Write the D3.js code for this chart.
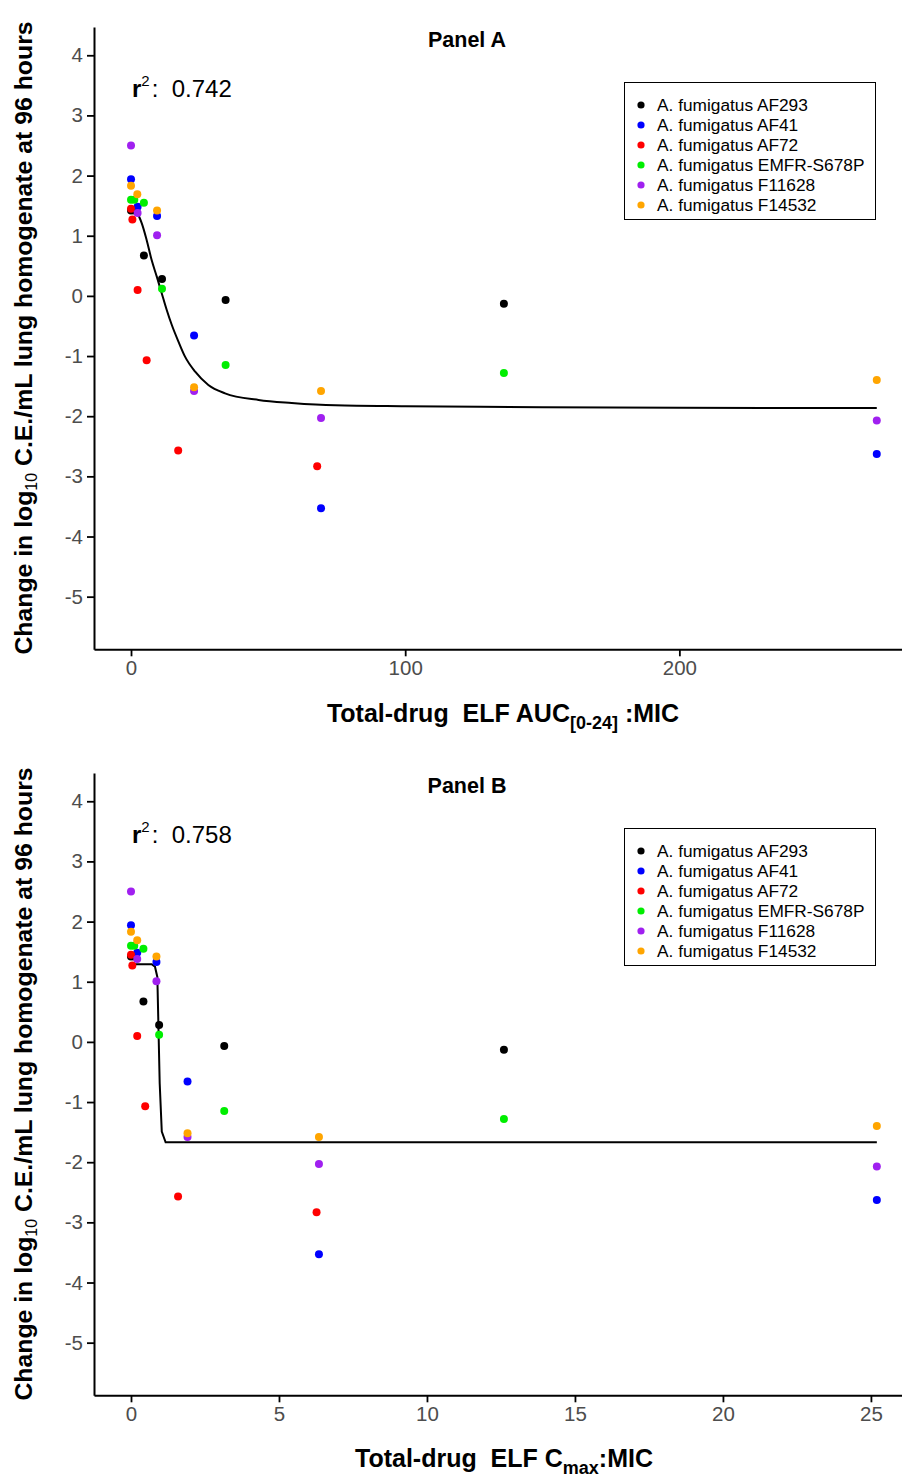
<!DOCTYPE html>
<html>
<head>
<meta charset="utf-8">
<script src="https://cdn.jsdelivr.net/npm/d3@7/dist/d3.min.js"></script>
<style>
  body { margin: 0; background: #fff; }
  svg { display: block; font-family: "Liberation Sans", Arial, sans-serif; }
  .tick text { fill: #4d4d4d; font-size: 20.5px; }
</style>
</head>
<body>
<div id="chart"></div>
<script>
// strains and colours
const strains = [
    'A. fumigatus AF293',
    'A. fumigatus AF41',
    'A. fumigatus AF72',
    'A. fumigatus EMFR-S678P',
    'A. fumigatus F11628',
    'A. fumigatus F14532'
];
const strainColors = ['#000000', '#0000ff', '#ff0000', '#00ee00', '#a020f0', '#ffa500'];

// exposure per strain (one row per strain)
const aucMic = [
    [0, 1.2, 4.7, 11.3, 34.5, 136],
    [0, 2.4, 9.5, 23, 69.3, 272],
    [0, 0.5, 2.4, 5.7, 17.2, 67.9],
    [0, 1.2, 4.7, 11.3, 34.5, 136],
    [0, 2.4, 9.5, 23, 69.3, 272],
    [0, 2.3, 9.5, 23, 69.3, 272]
];
const cmaxMic = [
    [0, 0.11, 0.42, 0.95, 3.15, 12.6],
    [0, 0.21, 0.86, 1.91, 6.35, 25.2],
    [0, 0.045, 0.21, 0.48, 1.59, 6.27],
    [0, 0.11, 0.42, 0.95, 3.15, 12.6],
    [0, 0.21, 0.86, 1.91, 6.35, 25.2],
    [0, 0.21, 0.86, 1.91, 6.35, 25.2]
];
// change in log10 CE/mL at 96 h
const response = [
    [1.42, 1.42, 0.67, 0.28, -0.07, -0.13],
    [1.94, 1.48, 1.33, -0.66, -3.53, -2.63],
    [1.45, 1.27, 0.10, -1.07, -2.57, -2.83],
    [1.60, 1.60, 1.55, 0.12, -1.15, -1.28],
    [2.50, 1.38, 1.01, -1.58, -2.03, -2.07],
    [1.83, 1.69, 1.42, -1.52, -1.58, -1.40]
];

// fitted curves
const fitAx = [0, 2.07, 3.9, 5.7, 7.5, 9.4, 11.2, 13.0, 14.85, 17.3, 19.7, 23.4, 28.2, 34.3, 46.5, 58.6, 74.5, 100, 150, 200, 272];
const fitAy = [1.42, 1.38, 1.21, 0.93, 0.60, 0.32, 0.045, -0.23, -0.48, -0.76, -1.01, -1.26, -1.48, -1.62, -1.73, -1.78, -1.82, -1.835, -1.85, -1.86, -1.865];
const fitBx = [0, 0.7, 0.81, 0.89, 0.92, 0.97, 1.04, 1.17, 25.2];
const fitBy = [1.29, 1.29, 1.25, 1.08, 0.42, -0.69, -1.49, -1.67, -1.67];

const yTicks = [-5, -4, -3, -2, -1, 0, 1, 2, 3, 4];
const xTicksA = [0, 100, 200];
const xTicksB = [0, 5, 10, 15, 20, 25];

const width = 902;
const height = 1478;

const svg = d3.select('#chart')
    .append('svg')
    .attr('width', width)
    .attr('height', height);

// R style labels: plain hyphen for negatives
const plainNum = d => String(d);

function drawPanel(cfg) {
    const g = svg.append('g').attr('transform', `translate(0, ${cfg.offset})`);

    const xScale = d3.scaleLinear().domain(cfg.xDomain).range([94, 902]);
    const yScale = d3.scaleLinear().domain([-5.875, 4.47]).range([649.3, 27]);

    // axes
    const xAxis = d3.axisBottom(xScale).tickValues(cfg.xTicks).tickFormat(plainNum)
        .tickSizeInner(7).tickSizeOuter(0).tickPadding(4);
    const yAxis = d3.axisLeft(yScale).tickValues(yTicks).tickFormat(plainNum)
        .tickSizeInner(7).tickSizeOuter(0).tickPadding(4);

    const xg = g.append('g').attr('transform', 'translate(0, 649.3)').call(xAxis);
    const yg = g.append('g').attr('transform', 'translate(94, 0)').call(yAxis);
    [xg, yg].forEach(a => {
        a.select('.domain').attr('stroke', '#000').attr('stroke-width', 2);
        a.selectAll('.tick line').attr('stroke', '#000').attr('stroke-width', 1.8);
        a.attr('font-family', null).attr('font-size', null);
    });

    // fitted line
    const line = d3.line()
        .x(d => xScale(d[0]))
        .y(d => yScale(d[1]))
        .curve(cfg.curve);
    g.append('path')
        .datum(cfg.fitX.map((x, i) => [x, cfg.fitY[i]]))
        .attr('d', line)
        .attr('fill', 'none')
        .attr('stroke', '#000')
        .attr('stroke-width', 2);

    // points
    strains.forEach((s, si) => {
        g.selectAll(null)
            .data(cfg.xs[si].map((x, i) => ({ x: x, y: response[si][i] })))
            .enter()
            .append('circle')
            .attr('cx', d => xScale(d.x))
            .attr('cy', d => yScale(d.y))
            .attr('r', 4)
            .attr('fill', strainColors[si]);
    });

    // panel title
    g.append('text')
        .attr('x', 467)
        .attr('y', 46.5)
        .attr('text-anchor', 'middle')
        .attr('font-size', '21.5px')
        .attr('font-weight', 'bold')
        .text(cfg.title);

    // r squared
    const r2 = g.append('text').attr('x', 132).attr('y', 97).attr('font-size', '24px');
    r2.append('tspan').attr('font-weight', 'bold').text('r');
    r2.append('tspan').attr('font-size', '15px').attr('dy', -11).text('2');
    r2.append('tspan').attr('dy', 11).attr('dx', 2).text(':  ' + cfg.r2).style('white-space', 'pre');

    // legend
    const legend = g.append('g');
    legend.append('rect')
        .attr('x', 624.5).attr('y', 82.5)
        .attr('width', 251).attr('height', 137)
        .attr('fill', '#fff').attr('stroke', '#000').attr('stroke-width', 1);
    const items = legend.selectAll('.item')
        .data(strains)
        .enter()
        .append('g')
        .attr('transform', (d, i) => `translate(641, ${105 + i * 20})`);
    items.append('circle').attr('r', 3.6).attr('fill', (d, i) => strainColors[i]);
    items.append('text')
        .attr('x', 16)
        .attr('dy', '0.35em')
        .attr('font-size', '17.3px')
        .text(d => d);

    // x axis title
    const xt = g.append('text')
        .attr('x', cfg.xTitleX)
        .attr('y', cfg.xTitleY)
        .attr('text-anchor', 'middle')
        .attr('font-size', '25px')
        .attr('font-weight', 'bold')
        .style('white-space', 'pre');
    cfg.xTitle.forEach(p => {
        xt.append('tspan')
            .attr('font-size', p.sub ? '18px' : null)
            .attr('dy', p.dy || 0)
            .text(p.t);
    });

    // y axis title
    const yt = g.append('text')
        .attr('transform', 'translate(32, 338) rotate(-90)')
        .attr('text-anchor', 'middle')
        .attr('font-size', '24.8px')
        .attr('font-weight', 'bold');
    yt.append('tspan').text('Change in log');
    yt.append('tspan').attr('font-size', '16px').attr('font-weight', 'normal').attr('dy', 5).text('10');
    yt.append('tspan').attr('dy', -5).text(' C.E./mL lung homogenate at 96 hours');
}

drawPanel({
    offset: 0,
    xDomain: [-13.5, 281.2],
    xTicks: xTicksA,
    xs: aucMic,
    fitX: fitAx,
    fitY: fitAy,
    curve: d3.curveMonotoneX,
    title: 'Panel A',
    r2: '0.742',
    xTitleX: 503,
    xTitleY: 722,
    xTitle: [
        { t: 'Total-drug  ELF AUC' },
        { t: '[0-24]', sub: true, dy: 7 },
        { t: ' :MIC', dy: -7 }
    ]
});

drawPanel({
    offset: 746,
    xDomain: [-1.25, 26.05],
    xTicks: xTicksB,
    xs: cmaxMic,
    fitX: fitBx,
    fitY: fitBy,
    curve: d3.curveLinear,
    title: 'Panel B',
    r2: '0.758',
    xTitleX: 504,
    xTitleY: 721,
    xTitle: [
        { t: 'Total-drug  ELF C' },
        { t: 'max', sub: true, dy: 7 },
        { t: ':MIC', dy: -7 }
    ]
});
</script>
</body>
</html>
